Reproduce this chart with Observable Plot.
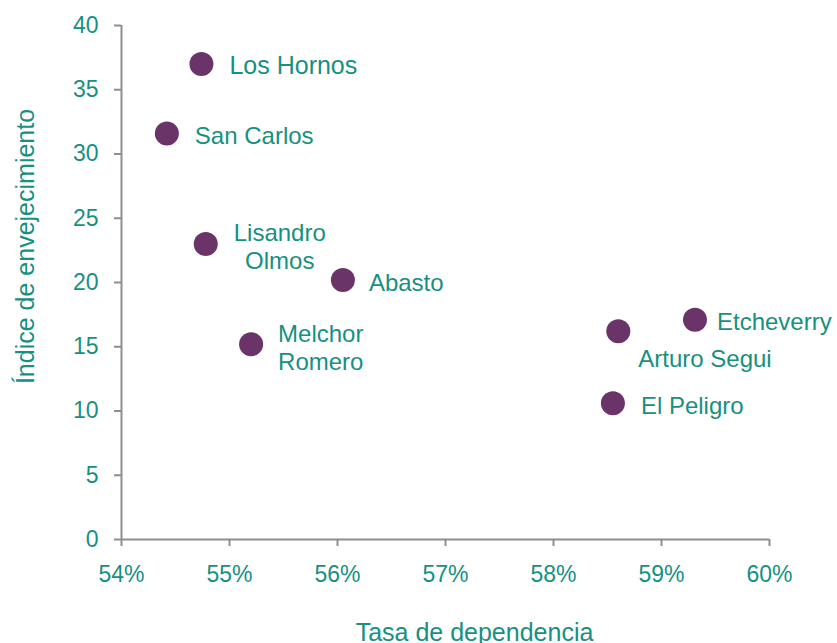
<!DOCTYPE html>
<html>
<head>
<meta charset="utf-8">
<script src="https://cdn.jsdelivr.net/npm/d3@7"></script>
<script src="https://cdn.jsdelivr.net/npm/@observablehq/plot@0.6"></script>
<style>
  html, body { margin: 0; padding: 0; background: #ffffff; }
  #chart { width: 837px; height: 643px; overflow: hidden; }
</style>
</head>
<body>
<div id="chart"></div>
<script>
// Data
const names = ["Los Hornos", "San Carlos", "Lisandro\nOlmos", "Abasto", "Melchor\nRomero", "Arturo Segui", "Etcheverry", "El Peligro"];
const tasaDependencia = [0.5474, 0.5442, 0.5478, 0.5605, 0.5520, 0.5860, 0.5931, 0.5855];
const indiceEnvejecimiento = [37.0, 31.6, 23.0, 20.2, 15.2, 16.2, 17.1, 10.6];
const xTicks = [0.54, 0.55, 0.56, 0.57, 0.58, 0.59, 0.60];
const yTicks = [0, 5, 10, 15, 20, 25, 30, 35, 40];
const xTitle = "Tasa de dependencia";
const yTitle = "Índice de envejecimiento";

const data = names.map((n, i) => ({name: n, x: tasaDependencia[i], y: indiceEnvejecimiento[i]}));

const TEAL = "#17907f";
const PURPLE = "#6b3469";
const GRAY = "#8e8e8e";
const FONT = "Liberation Sans, Arial, sans-serif";

function label(name, opts) {
  return Plot.text(data.filter(d => d.name === name), {
    x: "x", y: "y", text: "name",
    fill: TEAL, fontSize: 24, lineHeight: 1.17,
    textAnchor: "start",
    ...opts
  });
}

const chart = Plot.plot({
  width: 837,
  height: 643,
  marginLeft: 121,
  marginRight: 68,
  marginTop: 25,
  marginBottom: 104,
  style: {fontFamily: FONT, background: "#ffffff", overflow: "visible"},
  x: {domain: [0.54, 0.60], axis: null},
  y: {domain: [0, 40], axis: null},
  marks: [
    Plot.ruleX([0.54], {stroke: GRAY, strokeWidth: 2}),
    Plot.ruleY([0], {stroke: GRAY, strokeWidth: 2}),
    Plot.axisY({ticks: yTicks, tickSize: 7, tickPadding: 16, stroke: GRAY, strokeWidth: 2,
      fill: TEAL, fontSize: 23, label: null, tickFormat: d => String(d)}),
    Plot.axisX({ticks: xTicks, tickSize: 7, tickPadding: 19, stroke: GRAY, strokeWidth: 2,
      fill: TEAL, fontSize: 23, label: null, tickFormat: d => Math.round(d * 100) + "%"}),
    Plot.dot(data, {x: "x", y: "y", r: 12, fill: PURPLE, stroke: "none"}),
    label("Los Hornos", {dx: 28, dy: 1, fontSize: 25}),
    label("San Carlos", {dx: 28, dy: 2}),
    label("Lisandro\nOlmos", {dx: 74, dy: 2, textAnchor: "middle"}),
    label("Abasto", {dx: 26, dy: 2}),
    label("Melchor\nRomero", {dx: 27, dy: 3}),
    label("Arturo Segui", {dx: 20, dy: 27}),
    label("Etcheverry", {dx: 22, dy: 1}),
    label("El Peligro", {dx: 28, dy: 2}),
    Plot.text([xTitle], {frameAnchor: "bottom", textAnchor: "middle", lineAnchor: "middle", dx: 29, dy: 93, fill: TEAL, fontSize: 25}),
    Plot.text([yTitle], {frameAnchor: "left", textAnchor: "middle", lineAnchor: "middle", dx: -96, dy: -36, rotate: -90, fill: TEAL, fontSize: 25})
  ]
});

document.getElementById("chart").appendChild(chart);
</script>
</body>
</html>
